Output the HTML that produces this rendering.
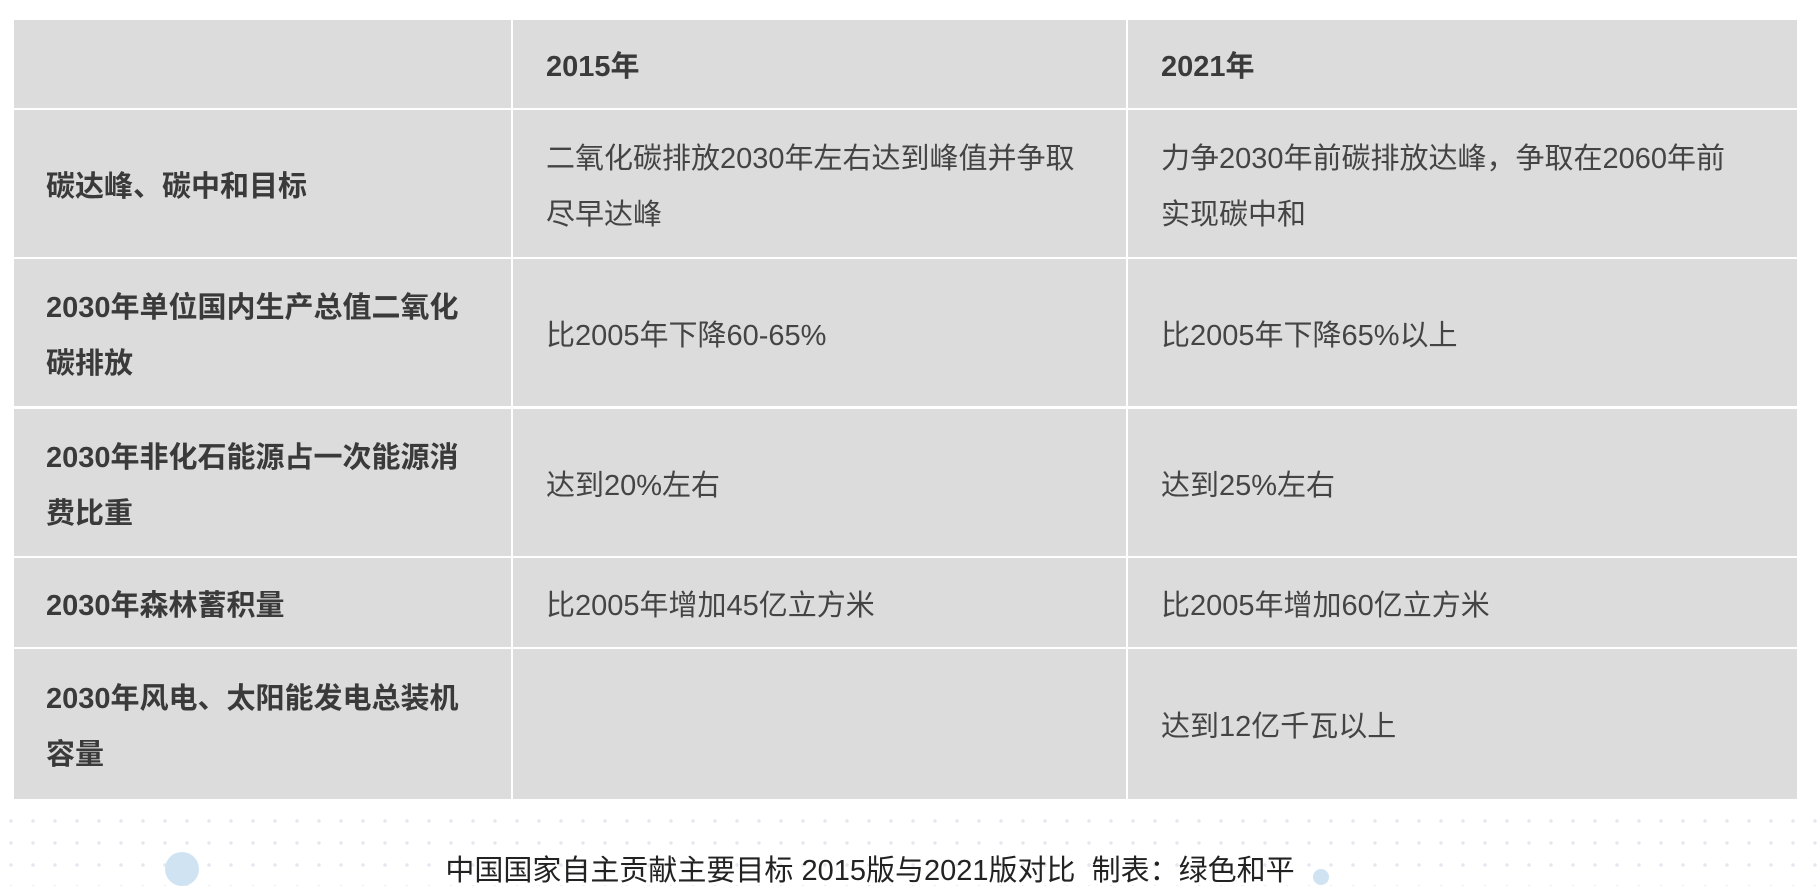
<!DOCTYPE html>
<html><head><meta charset="utf-8"><style>
body{margin:0;width:1820px;height:886px;background:#fff;position:relative;overflow:hidden;font-family:"Liberation Sans","Noto Sans CJK SC",sans-serif;}
.c{position:absolute;background:#dcdcdc;color:#444;font-size:29px;line-height:56px;display:flex;align-items:center;box-sizing:border-box;white-space:nowrap;padding-top:6px;}
.h{font-weight:bold;color:#3a3a3a;}
.dots{position:absolute;left:0;top:810px;width:1820px;height:76px;background-image:radial-gradient(circle,#e3e8ee 1.5px,transparent 2px);background-size:22px 22px;}
</style></head><body>
<div class="dots"></div>
<div style="position:absolute;left:165px;top:852px;width:34px;height:34px;border-radius:50%;background:#cfe3f3"></div>
<div style="position:absolute;left:1313px;top:869px;width:16px;height:16px;border-radius:50%;background:#cfe3f3"></div>
<div id="t"></div>
<div style="position:absolute;left:-40px;width:1820px;top:847px;text-align:center;font-size:29px;color:#222">中国国家自主贡献主要目标 2015版与2021版对比&nbsp; 制表：绿色和平</div>
<script>
const cols=[[14,511],[513,1126],[1128,1797]];
const rows=[[20,108],[110,257],[259,406],[409,556],[558,647],[649,799]];
const pads=[46,546,1161];
const data=[
["","2015年","2021年"],
["碳达峰、碳中和目标","二氧化碳排放2030年左右达到峰值并争取<br>尽早达峰","力争2030年前碳排放达峰，争取在2060年前<br>实现碳中和"],
["2030年单位国内生产总值二氧化<br>碳排放","比2005年下降60-65%","比2005年下降65%以上"],
["2030年非化石能源占一次能源消<br>费比重","达到20%左右","达到25%左右"],
["2030年森林蓄积量","比2005年增加45亿立方米","比2005年增加60亿立方米"],
["2030年风电、太阳能发电总装机<br>容量","","达到12亿千瓦以上"]];
const t=document.getElementById('t');
rows.forEach((r,i)=>cols.forEach((c,j)=>{
const d=document.createElement('div');
d.className='c'+((i==0||j==0)?' h':'');
d.style.left=c[0]+'px';d.style.width=(c[1]-c[0])+'px';
d.style.top=r[0]+'px';d.style.height=(r[1]-r[0])+'px';
d.style.paddingLeft=(pads[j]-c[0])+'px';
d.innerHTML='<span>'+data[i][j]+'</span>';


t.appendChild(d);
}));
</script>
</body></html>
